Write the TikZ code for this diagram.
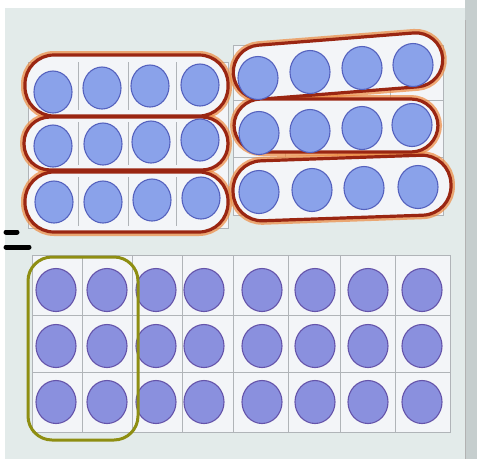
\documentclass[tikz,border=0pt]{standalone}
\usetikzlibrary{shapes.geometric}
\definecolor{paper}{HTML}{E3EBEA}
\definecolor{edge}{HTML}{C6CECE}
\definecolor{cellfill}{HTML}{F3F5F8}
\definecolor{gridline}{HTML}{B0B4B8}
\definecolor{dotA}{HTML}{8AA2EA}
\definecolor{dotAedge}{HTML}{5562BE}
\definecolor{dotB}{HTML}{8A90DE}
\definecolor{dotBedge}{HTML}{6554AA}
\definecolor{loopred}{HTML}{9A2612}
\definecolor{halo}{HTML}{EE8A40}
\definecolor{loopgreen}{HTML}{8E8E12}
\tikzset{
  dotup/.style={ellipse, draw=dotAedge, line width=1.1pt, fill=dotA, minimum width=38pt, minimum height=42pt, inner sep=0pt},
  dotupr/.style={dotup, minimum width=40pt, minimum height=43pt},
  dotdown/.style={ellipse, draw=dotBedge, line width=1.1pt, fill=dotB, minimum width=40pt, minimum height=43pt, inner sep=0pt},
  redloop/.style={draw=loopred, line width=3.2pt, fill=cellfill},
  redhalo/.style={draw=halo, line width=8pt, opacity=0.7},
  greenloop/.style={draw=loopgreen, line width=3pt},
  gridcell/.style={draw=gridline, line width=0.5pt},
  eqbar/.style={draw=black, line width=5pt, line cap=round}
}
\begin{document}
\begin{tikzpicture}[x=1pt,y=-1pt]
\useasboundingbox (0,0) rectangle (477,459);
% background
\fill[white] (0,0) rectangle (477,459);
\fill[paper] (5,8) rectangle (465,459);
\fill[edge] (465,0) rectangle (477,459);
\draw[gray!60, line width=1pt] (465,20) -- (465,459);
% top grid cells (faint)
\fill[cellfill] (28,62) rectangle (228,228);
\fill[cellfill] (233,45) rectangle (443,215);
\draw[gridcell] (28,62) rectangle (228,228);
\draw[gridcell] (233,45) rectangle (443,215);
\foreach \x in {285,337,390} \draw[gridcell] (\x,45) -- (\x,215);
\foreach \y in {100,157} \draw[gridcell] (233,\y) -- (443,\y);
% red loops: halos
\draw[redhalo, rounded corners=29] (25,55) rectangle (228,116);
\draw[redhalo, rounded corners=26] (24,117) rectangle (228,170);
\draw[redhalo, rounded corners=29] (25,172) rectangle (228,232);
\draw[redhalo, rounded corners=27, rotate around={4.5:(338,66)}] (233,39) rectangle (443,93);
\draw[redhalo, rounded corners=27] (234,99) rectangle (438,152);
\draw[redhalo, rounded corners=29, rotate around={2:(342,188)}] (233,158) rectangle (451,218);
% red loops
\draw[redloop, rounded corners=29] (25,55) rectangle (228,116);
\draw[redloop, rounded corners=26] (24,117) rectangle (228,170);
\draw[redloop, rounded corners=29] (25,172) rectangle (228,232);
\draw[redloop, rounded corners=27, rotate around={4.5:(338,66)}] (233,39) rectangle (443,93);
\draw[redloop, rounded corners=27] (234,99) rectangle (438,152);
\draw[redloop, rounded corners=29, rotate around={2:(342,188)}] (233,158) rectangle (451,218);
% faint cell separators inside loops
\foreach \x in {78,128,176} {
  \draw[gridcell] (\x,62) -- (\x,110);
  \draw[gridcell] (\x,122) -- (\x,165);
  \draw[gridcell] (\x,177) -- (\x,226);
}
% top dots
\node[dotup] (a1) at (53,92) {};
\node[dotup] (a2) at (102,88) {};
\node[dotup] (a3) at (150,86) {};
\node[dotup] (a4) at (200,85) {};
\node[dotup] (b1) at (53,146) {};
\node[dotup] (b2) at (103,144) {};
\node[dotup] (b3) at (151,142) {};
\node[dotup] (b4) at (200,140) {};
\node[dotup] (c1) at (54,202) {};
\node[dotup] (c2) at (103,202) {};
\node[dotup] (c3) at (152,200) {};
\node[dotup] (c4) at (201,198) {};
\node[dotupr] (d1) at (258,78) {};
\node[dotupr] (d2) at (310,72) {};
\node[dotupr] (d3) at (362,68) {};
\node[dotupr] (d4) at (413,65) {};
\node[dotupr] (e1) at (259,133) {};
\node[dotupr] (e2) at (310,131) {};
\node[dotupr] (e3) at (362,128) {};
\node[dotupr] (e4) at (412,125) {};
\node[dotupr] (f1) at (259,192) {};
\node[dotupr] (f2) at (312,190) {};
\node[dotupr] (f3) at (364,188) {};
\node[dotupr] (f4) at (418,187) {};
% equals sign
\draw[eqbar] (6,232) -- (17,232);
\draw[eqbar] (6,247) -- (29,247);
% bottom grid
\fill[cellfill] (32,255) rectangle (450,432);
\draw[gridcell] (32,255) rectangle (450,432);
\foreach \x in {82,132,182,233,288,340,395} \draw[gridcell] (\x,255) -- (\x,432);
\foreach \y in {315,372} \draw[gridcell] (32,\y) -- (450,\y);
% bottom dots
\foreach \x [count=\i] in {56,107,156,204,262,315,368,422} {
  \node[dotdown] (g\i) at (\x,290) {};
  \node[dotdown] (h\i) at (\x,346) {};
  \node[dotdown] (k\i) at (\x,402) {};
}
% green loop
\draw[greenloop, rounded corners=24] (28,257) rectangle (138,440);
\end{tikzpicture}
\end{document}
